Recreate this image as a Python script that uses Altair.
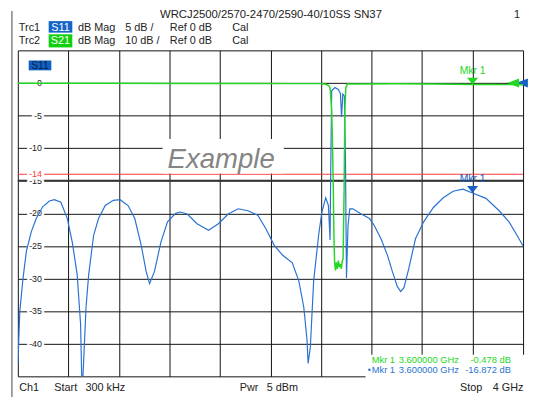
import altair as alt
import pandas as pd

# ---------------- data ----------------
START_GHZ = 0.0003
STOP_GHZ = 4.0
DIVS = 10

s11_freq = [0.0003, 0.016, 0.041, 0.068, 0.107, 0.146, 0.197, 0.250, 0.289, 0.341,
            0.392, 0.431, 0.470, 0.497, 0.509, 0.540, 0.561, 0.600, 0.639, 0.692,
            0.756, 0.809, 0.873, 0.926, 0.977, 1.016, 1.043, 1.082, 1.133, 1.185,
            1.250, 1.287, 1.341, 1.419, 1.510, 1.588, 1.666, 1.744, 1.822, 1.900,
            1.965, 2.030, 2.095, 2.173, 2.225, 2.264, 2.290, 2.298, 2.316, 2.342,
            2.381, 2.407, 2.438, 2.459, 2.472, 2.478, 2.485, 2.511, 2.537, 2.554,
            2.563, 2.573, 2.585, 2.594, 2.602, 2.614, 2.628, 2.653, 2.719, 2.784,
            2.823, 2.875, 2.926, 2.965, 3.004, 3.031, 3.057, 3.096, 3.148, 3.213,
            3.290, 3.368, 3.446, 3.524, 3.600, 3.706, 3.811, 3.889, 3.953, 4.000]
s11_db = [-43.2, -35.0, -30.0, -25.8, -22.8, -20.8, -19.0, -18.1, -17.9, -18.3,
          -20.8, -24.4, -29.4, -37.0, -48.0, -34.4, -29.4, -23.4, -20.8, -18.8,
          -18.0, -17.9, -18.8, -20.8, -24.9, -28.9, -30.8, -28.9, -24.4, -21.3,
          -20.0, -19.8, -20.1, -21.6, -22.6, -21.6, -20.1, -19.3, -19.6, -20.3,
          -22.4, -24.9, -26.4, -27.6, -30.4, -34.4, -39.5, -43.0, -40.5, -30.4,
          -23.4, -19.8, -17.6, -18.8, -24.1, -12.0, -1.2, -0.7, -1.0, -1.6,
          -5.2, -1.7, -2.0, -11.8, -29.9, -21.9, -19.3, -19.3, -20.1, -20.8,
          -21.9, -23.9, -26.4, -28.9, -31.2, -32.0, -31.4, -28.4, -23.9, -21.3,
          -19.1, -17.6, -16.6, -16.3, -16.872, -17.7, -19.6, -21.3, -23.4, -25.0]

s21_freq = [0.0003, 0.64, 1.42, 2.20, 2.40, 2.44, 2.46, 2.472, 2.485, 2.492,
            2.498, 2.503, 2.508, 2.515, 2.522, 2.530, 2.538, 2.546, 2.554, 2.561,
            2.569, 2.575, 2.583, 2.589, 2.597, 2.61, 2.667, 2.98, 3.29, 3.45,
            3.60, 3.76, 4.00]
s21_db = [-0.1, -0.1, -0.15, -0.2, -0.2, -0.4, -0.8, -1.4, -8.5, -20.0,
          -33.6, -48.0, -55.0, -57.5, -55.0, -57.0, -54.5, -56.5, -55.5, -57.0,
          -54.5, -54.0, -33.6, -8.5, -1.4, -0.3, -0.35, -0.25, -0.35, -0.42,
          -0.478, -0.5, -0.52]

s11_scale = [-45, 5]        # 5 dB / div, ref 0 dB
s21_scale = [-90, 10]       # 10 dB / div, ref 0 dB
y_grid = [-45, -40, -35, -30, -25, -20, -15, -10, -5, 0, 5]
y_label_vals = [0, -5, -10, -15, -20, -25, -30, -35, -40]
limit_db = -14
mkr_freq = 3.6
mkr_s11 = -16.872
mkr_s21 = -0.478

x_grid = [START_GHZ + i * (STOP_GHZ - START_GHZ) / DIVS for i in range(DIVS + 1)]

FONT = "Liberation Sans, Arial, Helvetica, sans-serif"
BLUE = "#2a72d2"
BLUE_DK = "#1560c4"
GREEN = "#22d822"
RED = "#ff3b3b"
TXT = "#222222"

s11 = pd.DataFrame({"f": s11_freq, "db": s11_db})
s21 = pd.DataFrame({"f": s21_freq, "db": s21_db})
labels = pd.DataFrame({"v": y_label_vals, "lab": [str(v) for v in y_label_vals]})
one = pd.DataFrame({"k": [0]})

TRI_DOWN = "M-0.8,-1L0.8,-1L0,0Z"
TRI_LEFT = "M0,0L1.7,-0.65L1.7,0.65Z"


def X(field="f"):
    return alt.X(f"{field}:Q",
                 scale=alt.Scale(domain=[START_GHZ, STOP_GHZ], nice=False, zero=False),
                 axis=alt.Axis(values=x_grid, grid=True, labels=False, ticks=False,
                               domain=False, title=None))


def Y1(field="db"):
    return alt.Y(f"{field}:Q",
                 scale=alt.Scale(domain=s11_scale, nice=False, zero=False),
                 axis=alt.Axis(values=y_grid, grid=True, labels=False, ticks=False,
                               domain=False, title=None))


def Y2(field="db"):
    return alt.Y(f"{field}:Q",
                 scale=alt.Scale(domain=s21_scale, nice=False, zero=False),
                 axis=None)


def txt(s, x, y, size=11, color=TXT, align="left", **kw):
    return alt.Chart(one).mark_text(text=s, fontSize=size, color=color, align=align,
                                    baseline="alphabetic", font=FONT, **kw).encode(
        x=alt.value(x), y=alt.value(y))


def box(x, x2, y, y2, color):
    return alt.Chart(one).mark_rect(color=color, opacity=1).encode(
        x=alt.value(x), x2=alt.value(x2), y=alt.value(y), y2=alt.value(y2))


# ---------------- S11 group (5 dB/div) ----------------
thick15 = alt.Chart(pd.DataFrame({"v": [-15]})).mark_rule(color="#333333", strokeWidth=2).encode(y=Y1("v"))
lab_halo = alt.Chart(labels).mark_text(align="right", baseline="middle", fontSize=9, font=FONT,
                                       color="white", stroke="white", strokeWidth=5).encode(
    x=alt.value(24.5), y=Y1("v"), text="lab:N")
lab_txt = alt.Chart(labels).mark_text(align="right", baseline="middle", fontSize=9, font=FONT,
                                      color=TXT).encode(
    x=alt.value(24.5), y=Y1("v"), text="lab:N")
lim_df = pd.DataFrame({"v": [limit_db], "lab": [str(limit_db)]})
lim_rule = alt.Chart(lim_df).mark_rule(color=RED, strokeWidth=1.2).encode(y=Y1("v"))
lim_halo = alt.Chart(lim_df).mark_text(align="right", baseline="middle", fontSize=9, font=FONT,
                                       color="white", stroke="white", strokeWidth=5).encode(
    x=alt.value(24.5), y=Y1("v"), text="lab:N")
lim_txt = alt.Chart(lim_df).mark_text(align="right", baseline="middle", fontSize=9, font=FONT,
                                      color=RED).encode(
    x=alt.value(24.5), y=Y1("v"), text="lab:N")

s11_line = alt.Chart(s11).mark_line(color=BLUE, strokeWidth=1.2, clip=True).encode(x=X(), y=Y1())
mk1 = pd.DataFrame({"f": [mkr_freq], "db": [mkr_s11]})
s11_mkr = alt.Chart(mk1).mark_point(shape=TRI_DOWN, size=196, filled=True, opacity=1,
                                    color=BLUE_DK, strokeWidth=0).encode(x=X(), y=Y1())
s11_mkr_lab = alt.Chart(mk1).mark_text(text="Mkr 1", dy=-11, fontSize=10.5, font=FONT,
                                       color=BLUE_DK, baseline="alphabetic").encode(x=X(), y=Y1())
ref1 = alt.Chart(pd.DataFrame({"v": [0]})).mark_point(shape=TRI_LEFT, size=196, filled=True,
                                                     opacity=1, color=BLUE_DK, strokeWidth=0).encode(
    x=alt.value(506), y=Y1("v"))

s11_group = alt.layer(thick15, lab_halo, lab_txt, lim_rule, lim_halo, lim_txt,
                      s11_line, s11_mkr, s11_mkr_lab, ref1)

# ---------------- S21 group (10 dB/div) ----------------
s21_line = alt.Chart(s21).mark_line(color=GREEN, strokeWidth=1.5, clip=True).encode(x=X(), y=Y2())
mk2 = pd.DataFrame({"f": [mkr_freq], "db": [mkr_s21]})
s21_mkr = alt.Chart(mk2).mark_point(shape=TRI_DOWN, size=196, filled=True, opacity=1,
                                    color=GREEN, strokeWidth=0).encode(x=X(), y=Y2())
s21_mkr_lab = alt.Chart(mk2).mark_text(text="Mkr 1", dy=-11, fontSize=10.5, font=FONT,
                                       color=GREEN, baseline="alphabetic").encode(x=X(), y=Y2())
ref2 = alt.Chart(pd.DataFrame({"v": [0]})).mark_point(shape=TRI_LEFT, size=196, filled=True,
                                                     opacity=1, color=GREEN, strokeWidth=0).encode(
    x=alt.value(497), y=Y2("v"))
s21_group = alt.layer(s21_line, s21_mkr, s21_mkr_lab, ref2)

# ---------------- annotations ----------------
ann = [
    alt.Chart(one).mark_rule(color="#444444", strokeWidth=1).encode(
        x=alt.value(-6), y=alt.value(-40), y2=alt.value(352)),
    txt("WRCJ2500/2570-2470/2590-40/10SS SN37", 257, -33, size=11.5, align="center"),
    txt("1", 510, -33, size=11, align="right"),
    box(31.3, 55.3, -29.7, -18, "#1565c8"),
    box(31.3, 55.3, -16.3, -3, "#10d010"),
    txt("Trc1", 1, -20),
    txt("S11", 43.3, -20, color="white", align="center"),
    txt("dB Mag", 61, -20),
    txt("5 dB /", 109, -20),
    txt("Ref 0 dB", 154.3, -20),
    txt("Cal", 217.7, -20),
    txt("Trc2", 1, -6.3),
    txt("S21", 43.3, -6.3, color="white", align="center"),
    txt("dB Mag", 61, -6.3),
    txt("10 dB /", 109, -6.3),
    txt("Ref 0 dB", 154.3, -6.3),
    txt("Cal", 217.7, -6.3),
    box(11, 34, 10.3, 20.3, "#1060c0"),
    txt("S11", 22.5, 18.7, size=10.5, color="#06214f", align="center"),
    box(147, 270, 90, 125, "white"),
    txt("Example", 152, 119, size=28, color="#858585", fontStyle="italic"),
    box(353, 515, 309, 333, "white"),
    txt("Mkr 1", 359.3, 317.7, size=9.5, color=GREEN),
    txt("3.600000 GHz", 386.7, 317.7, size=9.5, color=GREEN),
    txt("-0.478 dB", 500.7, 317.7, size=9.5, color=GREEN, align="right"),
    txt("\u2022", 355.3, 327.7, size=9, color=BLUE),
    txt("Mkr 1", 359.3, 327.7, size=9.5, color=BLUE),
    txt("3.600000 GHz", 386.7, 327.7, size=9.5, color=BLUE),
    txt("-16.872 dB", 500.7, 327.7, size=9.5, color=BLUE, align="right"),
    txt("Ch1", 1.3, 346.3),
    txt("Start", 37, 346.3),
    txt("300 kHz", 68.7, 346.3),
    txt("Pwr", 225.3, 346.3),
    txt("5 dBm", 252.7, 346.3),
    txt("Stop", 449, 346.3),
    txt("4 GHz", 513.3, 346.3, align="right"),
]

chart = alt.layer(s11_group, s21_group, *ann).resolve_scale(y="independent").properties(
    width=513, height=331,
    padding={"left": 10, "top": 40, "right": 5, "bottom": 21},
    autosize=alt.AutoSizeParams(type="none"),
    background="white",
).configure_view(strokeWidth=0).configure_axis(
    gridColor="#111111", gridWidth=1, gridOpacity=1
)

chart.save("out.html", embed_options={"renderer": "svg", "actions": False})
